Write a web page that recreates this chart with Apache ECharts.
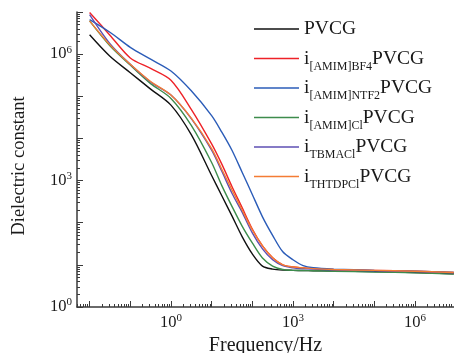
<!DOCTYPE html>
<html>
<head>
<meta charset="utf-8">
<script src="https://cdn.jsdelivr.net/npm/echarts@6/dist/echarts.min.js"></script>
<style>
  html, body { margin: 0; padding: 0; background: #fff; }
  #chart { width: 454px; height: 353px; }
</style>
</head>
<body>
<div id="chart"></div>
<script>
const frequency = [0.01, 0.0316, 0.1, 0.316, 1, 3.16, 10, 17.8, 31.6, 56.2, 100, 178, 316, 562, 1000, 1780, 3160, 1e4, 1e5, 1e6, 9e6];

// dielectric constant for each sample
const pvcg     = [2.88e6, 8.91e5, 3.63e5, 1.48e5, 6.17e4, 1.23e4, 1320, 437, 145, 46.8, 18.2, 9.33, 7.94, 7.50, 7.41, 7.33, 7.24, 7.16, 6.92, 6.61, 6.17];
const amimBF4  = [9.77e6, 2.82e6, 8.13e5, 4.57e5, 2.40e5, 4.90e4, 7410, 2450, 724, 229, 70.8, 28.2, 14.8, 10.0, 8.91, 8.51, 8.13, 7.76, 7.41, 7.08, 6.61];
const amimNTF2 = [6.61e6, 3.31e6, 1.45e6, 7.59e5, 3.98e5, 1.35e5, 3.47e4, 1.41e4, 5250, 1580, 468, 138, 50.1, 20.4, 13.2, 9.55, 8.51, 7.94, 7.41, 7.08, 6.61];
const amimCl   = [6.17e6, 1.58e6, 5.50e5, 2.00e5, 8.91e4, 2.04e4, 2690, 759, 245, 83.2, 33.1, 14.5, 9.33, 7.76, 7.41, 7.33, 7.24, 7.08, 6.76, 6.46, 6.03];
const tbmaCl   = [8.71e6, 1.78e6, 5.75e5, 2.19e5, 1.07e5, 2.95e4, 5250, 1660, 501, 178, 57.5, 24.0, 13.2, 9.55, 8.51, 8.13, 7.94, 7.59, 7.24, 6.92, 6.46];
const thtdpCl  = [6.17e6, 1.66e6, 5.75e5, 2.24e5, 1.07e5, 3.02e4, 5750, 1860, 603, 200, 67.6, 28.2, 14.8, 10.0, 8.91, 8.51, 8.13, 7.76, 7.41, 7.08, 6.61];

const seriesNames = ["PVCG", "i[AMIM]BF4PVCG", "i[AMIM]NTF2PVCG", "i[AMIM]ClPVCG", "iTBMAClPVCG", "iTHTDPClPVCG"];
const subscripts  = ["", "[AMIM]BF4", "[AMIM]NTF2", "[AMIM]Cl", "TBMACl", "THTDPCl"];
const seriesData  = [pvcg, amimBF4, amimNTF2, amimCl, tbmaCl, thtdpCl];
const colors      = ["#111111", "#ee2228", "#2b5cb8", "#3d8c4c", "#5e4fb3", "#f47c34"];

const xLabelValues = [1, 1e3, 1e6];
const yLabelValues = [1, 1e3, 1e6];

const FONT = "'Liberation Serif', 'Times New Roman', serif";

// log tick positions (1..9 x 10^k) inside a range
function logTicks(lo, hi, majorOnly) {
  const out = [];
  for (let e = -3; e <= 7; e++) {
    for (let m = 1; m <= 9; m++) {
      if (majorOnly && m > 1) break;
      const v = m * Math.pow(10, e);
      if (v >= lo && v <= hi) out.push(v);
    }
  }
  return out;
}

const xMin = 0.0049, xMax = 9.1e6;
const yMin = 1, yMax = 1e7;

function powLabel(v) {
  return "10{s|" + Math.round(Math.log10(v)) + "}";
}

const labelRich = {
  s: { fontSize: 11, fontFamily: FONT, color: "#1a1a1a", lineHeight: 10, verticalAlign: "top" }
};

const chart = echarts.init(document.getElementById("chart"), null, { renderer: "canvas" });

chart.setOption({
  animation: false,
  backgroundColor: "#fff",
  grid: { left: 77, right: 0, top: 12, bottom: 46, containLabel: false, outerBoundsMode: "none" },
  legend: {
    orient: "vertical",
    left: 254,
    top: 15,
    padding: 0,
    icon: "rect",
    itemWidth: 45,
    itemHeight: 1.6,
    itemGap: 1.5,
    data: seriesNames,
    formatter: (name) => {
      const i = seriesNames.indexOf(name);
      if (!subscripts[i]) return "{m|PVCG}";
      return "{m|i}{s|" + subscripts[i] + "}{m|PVCG}";
    },
    textStyle: {
      fontFamily: FONT,
      fontSize: 19.5,
      color: "#1a1a1a",
      lineHeight: 28,
      rich: {
        m: { fontFamily: FONT, fontSize: 19.5, color: "#1a1a1a", lineHeight: 28 },
        s: { fontFamily: FONT, fontSize: 12, color: "#1a1a1a", lineHeight: 10, verticalAlign: "bottom" }
      }
    }
  },
  xAxis: [
    {
      type: "log",
      min: xMin,
      max: xMax,
      position: "bottom",
      name: "Frequency/Hz",
      nameLocation: "middle",
      nameGap: 29,
      nameMoveOverlap: false,
      nameTextStyle: { fontFamily: FONT, fontSize: 20, color: "#1a1a1a", verticalAlign: "top" },
      axisLine: { lineStyle: { color: "#3a3a3a", width: 1.5 } },
      axisTick: { inside: true, length: 3, customValues: logTicks(xMin, xMax, false), lineStyle: { color: "#3a3a3a" } },
      axisLabel: {
        customValues: xLabelValues,
        formatter: powLabel,
        margin: 6,
        fontFamily: FONT,
        fontSize: 16.5,
        color: "#1a1a1a",
        lineHeight: 20,
        rich: labelRich
      },
      splitLine: { show: false }
    },
    {
      type: "log",
      min: xMin,
      max: xMax,
      position: "bottom",
      axisLine: { show: false },
      axisTick: { inside: true, length: 6, customValues: logTicks(xMin, xMax, true), lineStyle: { color: "#3a3a3a" } },
      axisLabel: { show: false },
      splitLine: { show: false }
    }
  ],
  yAxis: [
    {
      type: "log",
      min: yMin,
      max: yMax,
      position: "left",
      name: "Dielectric constant",
      nameLocation: "middle",
      nameGap: 48,
      nameMoveOverlap: false,
      nameTextStyle: { fontFamily: FONT, fontSize: 18.5, color: "#1a1a1a", padding: [0, 13, 0, 0] },
      axisLine: { show: true, lineStyle: { color: "#3a3a3a", width: 1.5 } },
      axisTick: { show: true, inside: true, length: 3, customValues: logTicks(yMin, yMax, false), lineStyle: { color: "#3a3a3a" } },
      axisLabel: {
        customValues: yLabelValues,
        formatter: powLabel,
        margin: 5,
        fontFamily: FONT,
        fontSize: 16.5,
        color: "#1a1a1a",
        lineHeight: 20,
        rich: labelRich
      },
      splitLine: { show: false }
    },
    {
      type: "log",
      min: yMin,
      max: yMax,
      position: "left",
      axisLine: { show: false },
      axisTick: { show: true, inside: true, length: 6, customValues: logTicks(yMin, yMax, true), lineStyle: { color: "#3a3a3a" } },
      axisLabel: { show: false },
      splitLine: { show: false }
    }
  ],
  series: seriesData.map((vals, i) => ({
    name: seriesNames[i],
    type: "line",
    xAxisIndex: 0,
    yAxisIndex: 0,
    data: frequency.map((f, j) => [f, vals[j]]),
    smooth: 0.3,
    symbol: "none",
    lineStyle: { color: colors[i], width: 1.4 },
    itemStyle: { color: colors[i] }
  }))
});
</script>
</body>
</html>
